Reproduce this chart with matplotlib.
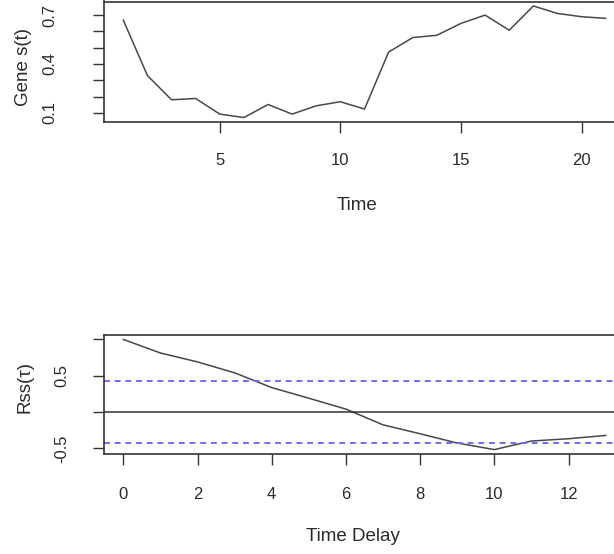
import numpy as np
import matplotlib.pyplot as plt

plt.rcParams['font.family'] = ['Liberation Sans', 'DejaVu Sans']

# gene expression over time
time = np.arange(1, 22)
gene_s = [0.669, 0.329, 0.180, 0.188, 0.092, 0.071, 0.151, 0.092, 0.143, 0.168, 0.123,
          0.473, 0.562, 0.576, 0.649, 0.700, 0.607, 0.756, 0.710, 0.690, 0.680]

# autocorrelation against delay
lags = np.arange(0, 14)
rss = [1.0, 0.813, 0.69, 0.54, 0.336, 0.19, 0.04, -0.177, -0.30, -0.428,
       -0.518, -0.40, -0.368, -0.323]
conf = 0.43

top_yticks = [0.1, 0.2, 0.3, 0.4, 0.5, 0.6, 0.7]
top_ylabels = ["0.1", "", "", "0.4", "", "", "0.7"]
bot_yticks = [-0.5, 0.0, 0.5, 1.0]
bot_ylabels = ["-0.5", "", "0.5", ""]

W, H = 614, 554
fig = plt.figure(figsize=(W / 100, H / 100), dpi=100)

ax1 = fig.add_axes([104 / W, 1 - 122 / H, 521 / W, 120.5 / H])
ax2 = fig.add_axes([104 / W, 1 - 454 / H, 521 / W, 119 / H])

line_col = "#484848"
edge_col = "#333333"
text_col = "#2a2a2a"

# ===== TOP: s(t) =====
ax1.plot(time, gene_s, color=line_col, lw=1.1)
ax1.margins(x=0.04, y=0.04)
ax1.set_xticks([5, 10, 15, 20])
ax1.set_yticks(top_yticks, top_ylabels)
ax1.set_xlabel("Time", fontsize=13.5, va="center", color=text_col)
ax1.xaxis.set_label_coords(0.4856, -0.689)
ax1.set_ylabel("Gene s(t)", fontsize=13.5, va="center", color=text_col)
ax1.yaxis.set_label_coords(-0.155, 0.456)
ax1.tick_params(axis="x", pad=14.4)
ax1.tick_params(axis="y", pad=26)

# ===== BOTTOM: Rss(tau) =====
ax2.plot(lags, rss, color=line_col, lw=1.1)
ax2.axhline(0, color=edge_col, lw=1.1)
for c in (conf, -conf):
    ax2.axhline(c, color="#6a6aff", lw=1.4, dashes=(3, 2.5))
ax2.margins(x=0.04, y=0.04)
ax2.set_xticks(np.arange(0, 13, 2))
ax2.set_yticks(bot_yticks, bot_ylabels)
ax2.set_xlabel("Time Delay", fontsize=13.5, va="center", color=text_col)
ax2.xaxis.set_label_coords(0.477, -0.697)
ax2.set_ylabel("Rss(τ)", fontsize=13.5, va="center", color=text_col)
ax2.yaxis.set_label_coords(-0.152, 0.563)
ax2.tick_params(axis="x", pad=15.8)
ax2.tick_params(axis="y", pad=17)

for ax in (ax1, ax2):
    for s in ax.spines.values():
        s.set_color(edge_col)
        s.set_linewidth(1.2)
    ax.tick_params(length=7.9, width=1, color=edge_col, labelsize=12, labelcolor=text_col)
    for lab in ax.get_yticklabels():
        lab.set_rotation(90)
        lab.set_va("center")

fig.savefig("out.png", dpi=100)
